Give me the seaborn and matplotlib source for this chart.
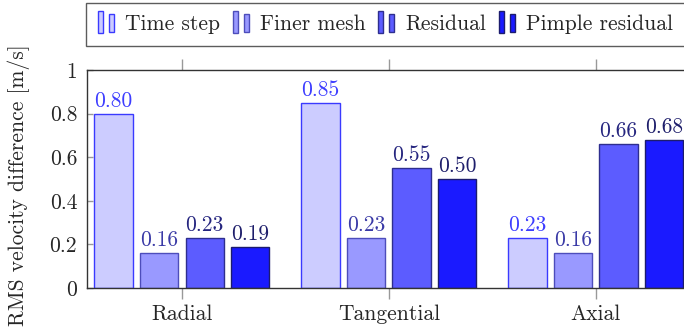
import numpy as np
import pandas as pd
import matplotlib
matplotlib.use("Agg")
import matplotlib.pyplot as plt
import seaborn as sns
from matplotlib.patches import Rectangle
from matplotlib.legend_handler import HandlerBase

# data
components = ["Radial", "Tangential", "Axial"]
series = ["Time step", "Finer mesh", "Residual", "Pimple residual"]
time_step = [0.80, 0.85, 0.23]
finer_mesh = [0.16, 0.23, 0.16]
residual = [0.23, 0.55, 0.66]
pimple_residual = [0.19, 0.50, 0.68]
yticks = [0, 0.2, 0.4, 0.6, 0.8, 1]
ytick_labels = ["0", "0.2", "0.4", "0.6", "0.8", "1"]

fills = ["#ccccff", "#9999ff", "#5c5cff", "#1a1aff"]
edges = ["#3a3aff", "#4d4dbb", "#2e2e8f", "#1c1c6e"]
label_colors = ["#3d3dff", "#3a3aa6", "#25257f", "#1e1e6b"]

df = pd.DataFrame({
    "component": components * 4,
    "series": np.repeat(series, 3),
    "value": time_step + finer_mesh + residual + pimple_residual,
})

FS = 15.5

sns.set_style("white")
plt.rcParams["font.family"] = ["cmr10", "DejaVu Serif"]
plt.rcParams["axes.formatter.use_mathtext"] = True
plt.rcParams["font.size"] = FS


class TwoBars(HandlerBase):
    """pgfplots-style ybar legend image: two small bars"""
    def create_artists(self, legend, orig, xdescent, ydescent, width, height,
                       fontsize, trans):
        w = width * 0.32
        fc = orig.get_facecolor()
        ec = orig.get_edgecolor()
        r1 = Rectangle((-xdescent, -ydescent - 0.2 * height), w, 1.45 * height,
                       facecolor=fc, edgecolor=ec, lw=1.0, transform=trans)
        r2 = Rectangle((-xdescent + width - w, -ydescent - 0.1 * height), w, 1.2 * height,
                       facecolor=fc, edgecolor=ec, lw=1.0, transform=trans)
        return [r1, r2]


fig = plt.figure(figsize=(6.84, 3.30), dpi=100)
ax = fig.add_axes([0.127, 0.127, 0.883, 0.661])

sns.barplot(data=df, x="component", y="value", hue="series", order=components,
            hue_order=series, palette=fills, saturation=1, width=0.88, gap=0.16,
            legend=False, ax=ax)

for i, cont in enumerate(ax.containers):
    for bar in cont:
        bar.set_edgecolor(edges[i])
        bar.set_linewidth(1.0)
    ax.bar_label(cont, fmt="%.2f", padding=2, color=label_colors[i], fontsize=FS)

ax.set_xlim(-0.459, 2.459)
ax.set_ylim(0, 1)
ax.set_yticks(yticks)
ax.set_yticklabels(ytick_labels)
ax.set_xlabel("")
ax.set_ylabel("RMS velocity difference [m/s]", fontsize=FS)
ax.yaxis.set_label_coords(-0.094, 0.47)

ax.tick_params(axis="x", direction="out", length=8, width=1.0, color="#999999",
               top=True, bottom=True, pad=4, labelsize=FS)
ax.tick_params(axis="y", direction="in", length=4, width=1.0, color="#999999",
               left=True, right=False, pad=7, labelsize=FS)
for s in ax.spines.values():
    s.set_color("#333333")
    s.set_linewidth(1.0)

handles = [Rectangle((0, 0), 1, 1, facecolor=fills[i], edgecolor=edges[i])
           for i in range(4)]
leg = fig.legend(handles, series, loc="upper left", bbox_to_anchor=(0.1257, 0.991),
                 ncol=4, frameon=True, fancybox=False, borderaxespad=0,
                 handler_map={Rectangle: TwoBars()}, handlelength=0.75,
                 handleheight=0.7, handletextpad=0.5, columnspacing=0.6,
                 borderpad=0.55, fontsize=FS)
leg.get_frame().set_edgecolor("#333333")
leg.get_frame().set_linewidth(1.0)

fig.savefig("out.png", dpi=100)
